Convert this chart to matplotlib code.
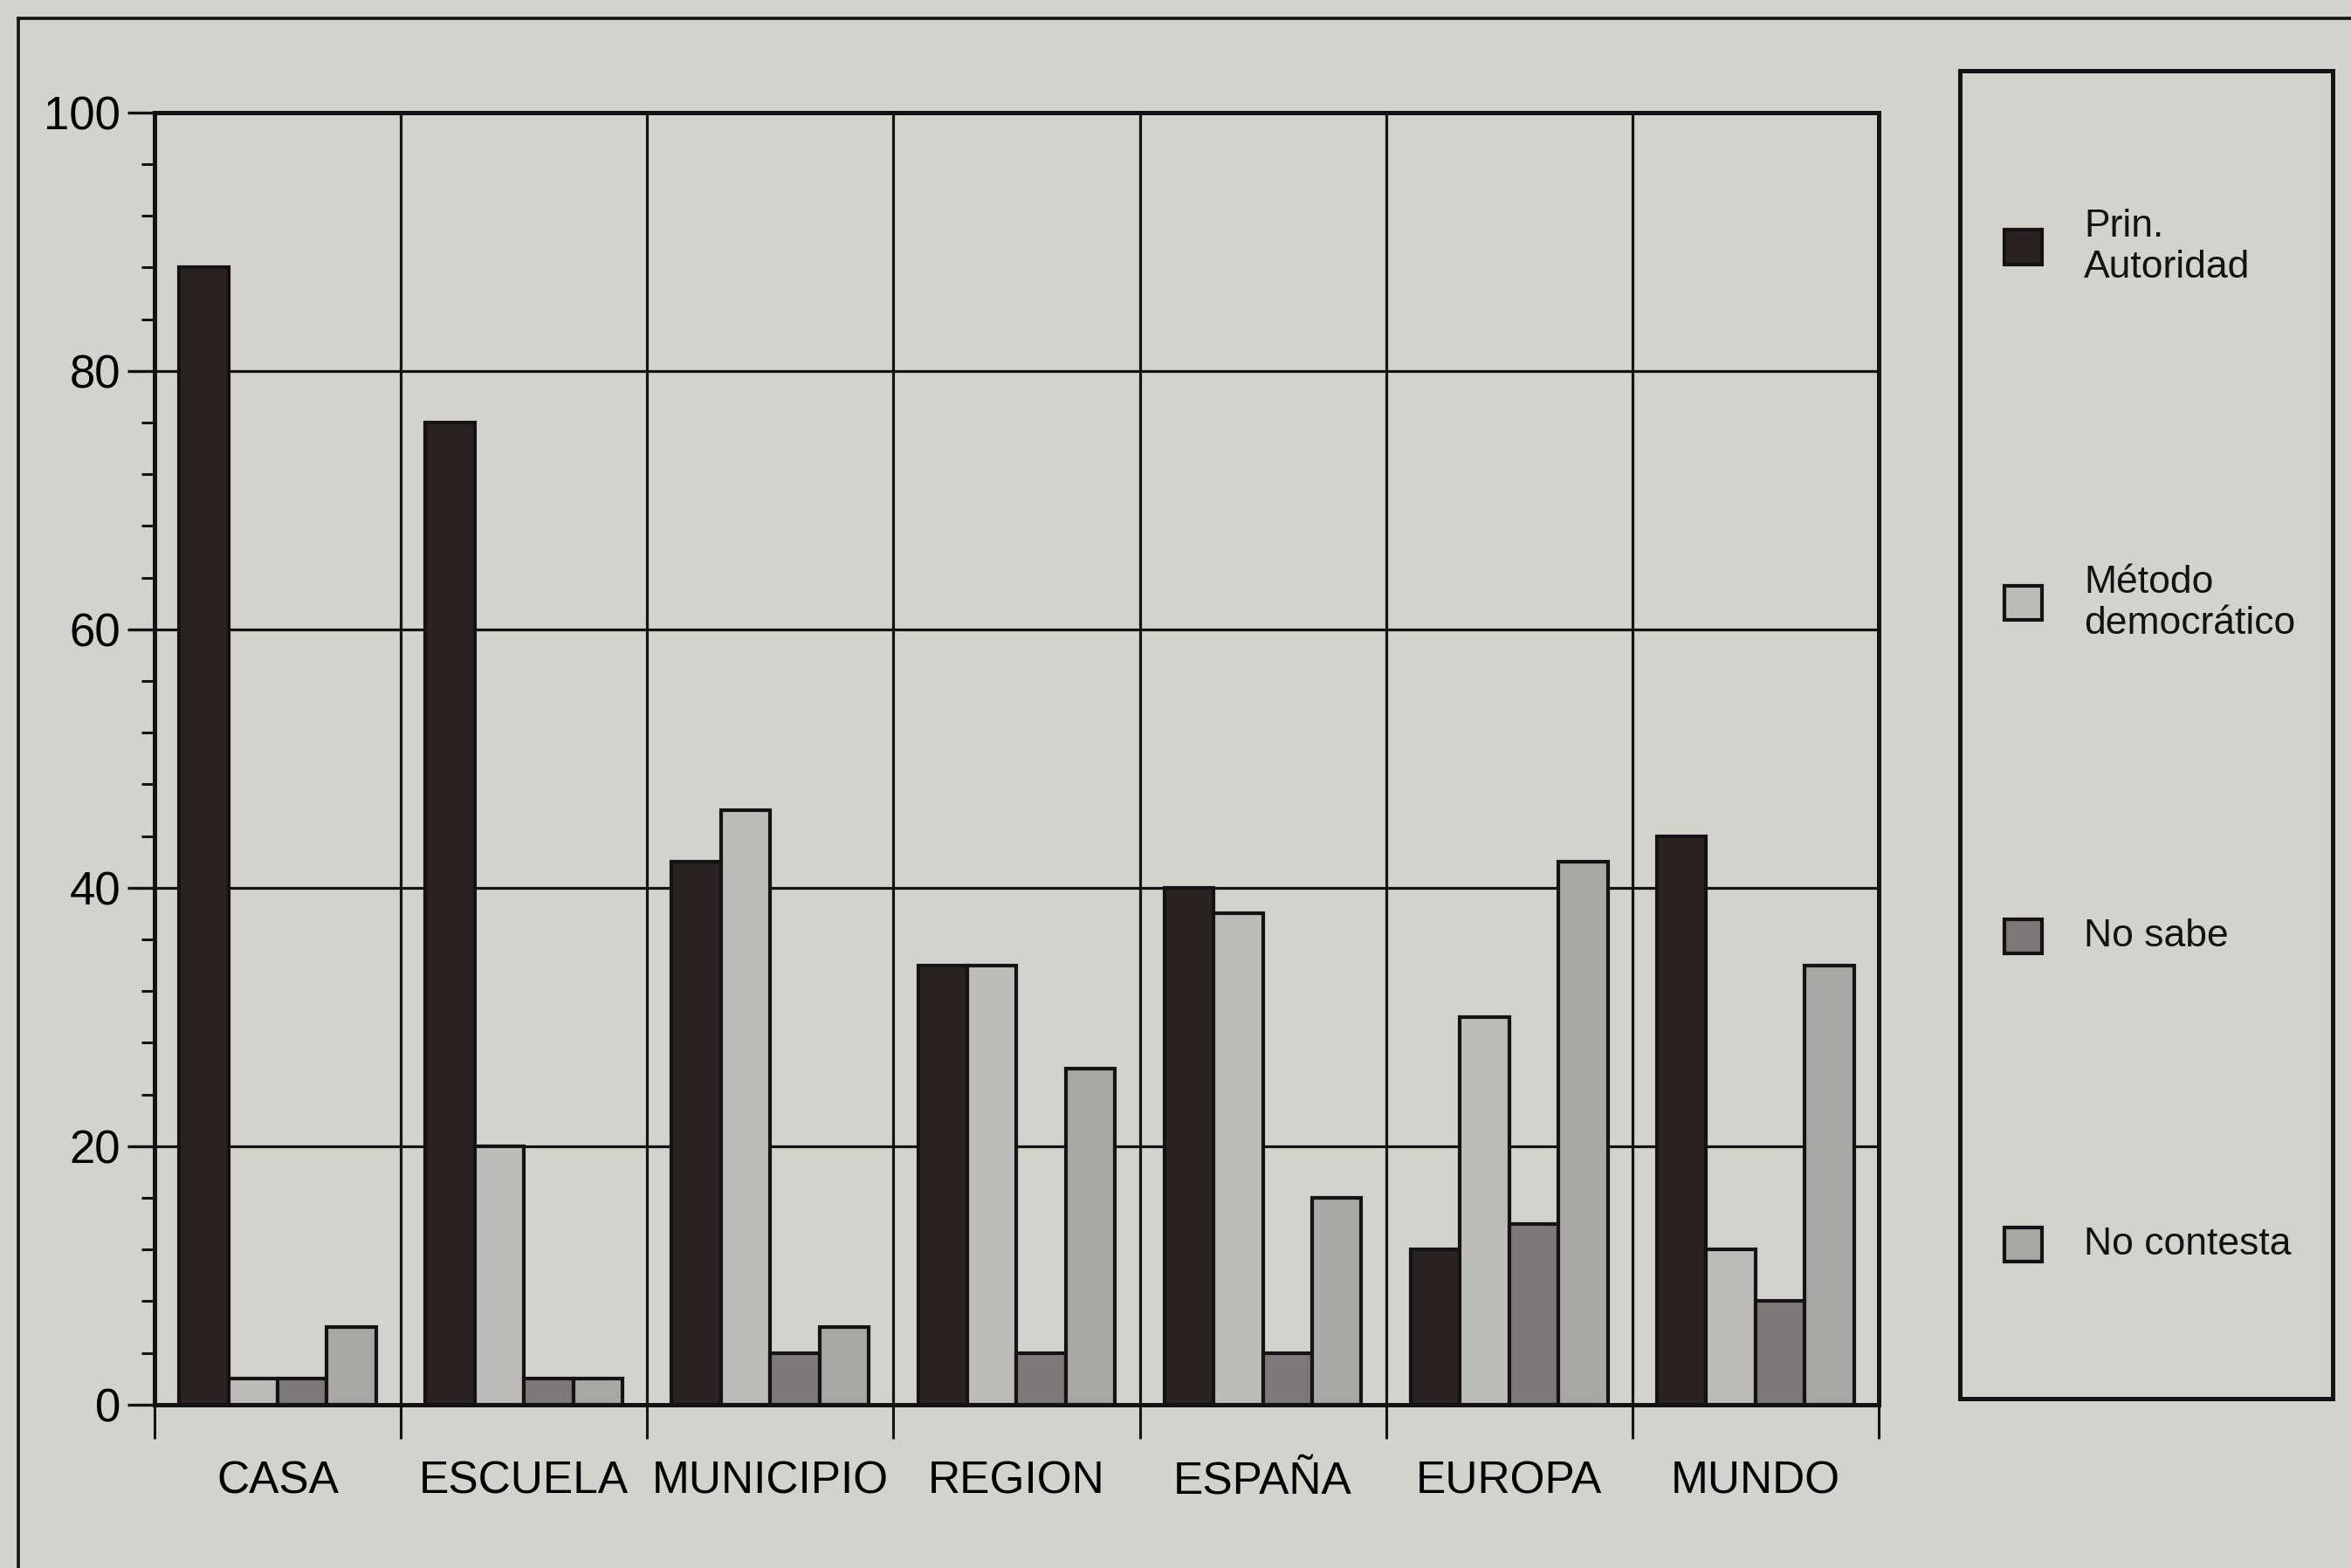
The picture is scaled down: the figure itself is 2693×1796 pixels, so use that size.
import numpy as np
import matplotlib.pyplot as plt
from matplotlib.lines import Line2D
from matplotlib.patches import Rectangle
from matplotlib.ticker import MultipleLocator

CATEGORIES = ["CASA", "ESCUELA", "MUNICIPIO", "REGION", "ESPAÑA", "EUROPA", "MUNDO"]
SERIES = ["Prin.\nAutoridad", "Método\ndemocrático", "No sabe", "No contesta"]
AUTORIDAD = [88, 76, 42, 34, 40, 12, 44]
DEMOCRATICO = [2, 20, 46, 34, 38, 30, 12]
NO_SABE = [2, 2, 4, 4, 4, 14, 8]
NO_CONTESTA = [6, 2, 6, 26, 16, 42, 34]
Y_TICKS = [0, 20, 40, 60, 80, 100]

PAPER = "#d4d2cd"
INK = "#141212"
COLORS = ["#2b2222", "#bebcb9", "#7d7979", "#a9a7a4"]

plt.rcParams["font.family"] = ["Liberation Sans", "DejaVu Sans"]

fig = plt.figure(figsize=(26.93, 17.96), dpi=100, facecolor=PAPER)
ax = fig.add_axes([0.0657, 0.1042, 0.7334, 0.8241], facecolor=PAPER)

x = np.arange(len(CATEGORIES)) + 0.5
offsets = [-0.3, -0.1, 0.1, 0.3]
for vals, off, col in zip([AUTORIDAD, DEMOCRATICO, NO_SABE, NO_CONTESTA], offsets, COLORS):
    ax.bar(x + off, vals, width=0.2, color=col, edgecolor=INK, linewidth=3, zorder=3)

ax.set_xlim(0, len(CATEGORIES))
ax.set_ylim(0, 100)

# group boundaries carry the vertical grid and the outward ticks
ax.set_xticks(np.arange(len(CATEGORIES) + 1))
ax.set_xticklabels([])
ax.set_xticks(x, minor=True)
ax.set_xticklabels(CATEGORIES, minor=True, fontsize=37)
ax.tick_params(axis="x", which="major", direction="out", length=28, width=2.2, color=INK)
ax.tick_params(axis="x", which="minor", length=0, pad=46)

ax.set_yticks(Y_TICKS)
ax.set_yticklabels([str(v) for v in Y_TICKS], fontsize=38)
ax.yaxis.set_minor_locator(MultipleLocator(4))
ax.tick_params(axis="y", which="major", direction="out", length=22, width=2.4, pad=6, color=INK)
ax.tick_params(axis="y", which="minor", direction="out", length=11, width=2.2, color=INK)

ax.grid(True, which="major", color=INK, linewidth=2.3, zorder=1)
ax.set_axisbelow(True)
for s in ax.spines.values():
    s.set_linewidth(3.6)
    s.set_color(INK)

# legend box
lax = fig.add_axes([0.8335, 0.108, 0.1588, 0.8471], facecolor=PAPER)
lax.set_xlim(0, 1)
lax.set_ylim(0, 1)
lax.set_xticks([])
lax.set_yticks([])
for s in lax.spines.values():
    s.set_linewidth(3.6)
    s.set_color(INK)
entry_y = [0.867, 0.599, 0.348, 0.116]
pw, ph = 0.1, 0.026
for lab, col, yc in zip(SERIES, COLORS, entry_y):
    lax.add_patch(Rectangle((0.12, yc - ph / 2), pw, ph, facecolor=col,
                            edgecolor=INK, linewidth=3))
    lax.text(0.333, yc, lab, fontsize=32, ha="left", va="center",
             linespacing=1.2, color=INK)

# outer frame of the figure panel
fig.add_artist(Line2D([0.0077, 1.0], [0.9885, 0.9885], transform=fig.transFigure,
                      color=INK, linewidth=2.6))
fig.add_artist(Line2D([0.0077, 0.0077], [0.0, 0.9885], transform=fig.transFigure,
                      color=INK, linewidth=2.6))

fig.savefig("out.png", dpi=100, facecolor=PAPER)
